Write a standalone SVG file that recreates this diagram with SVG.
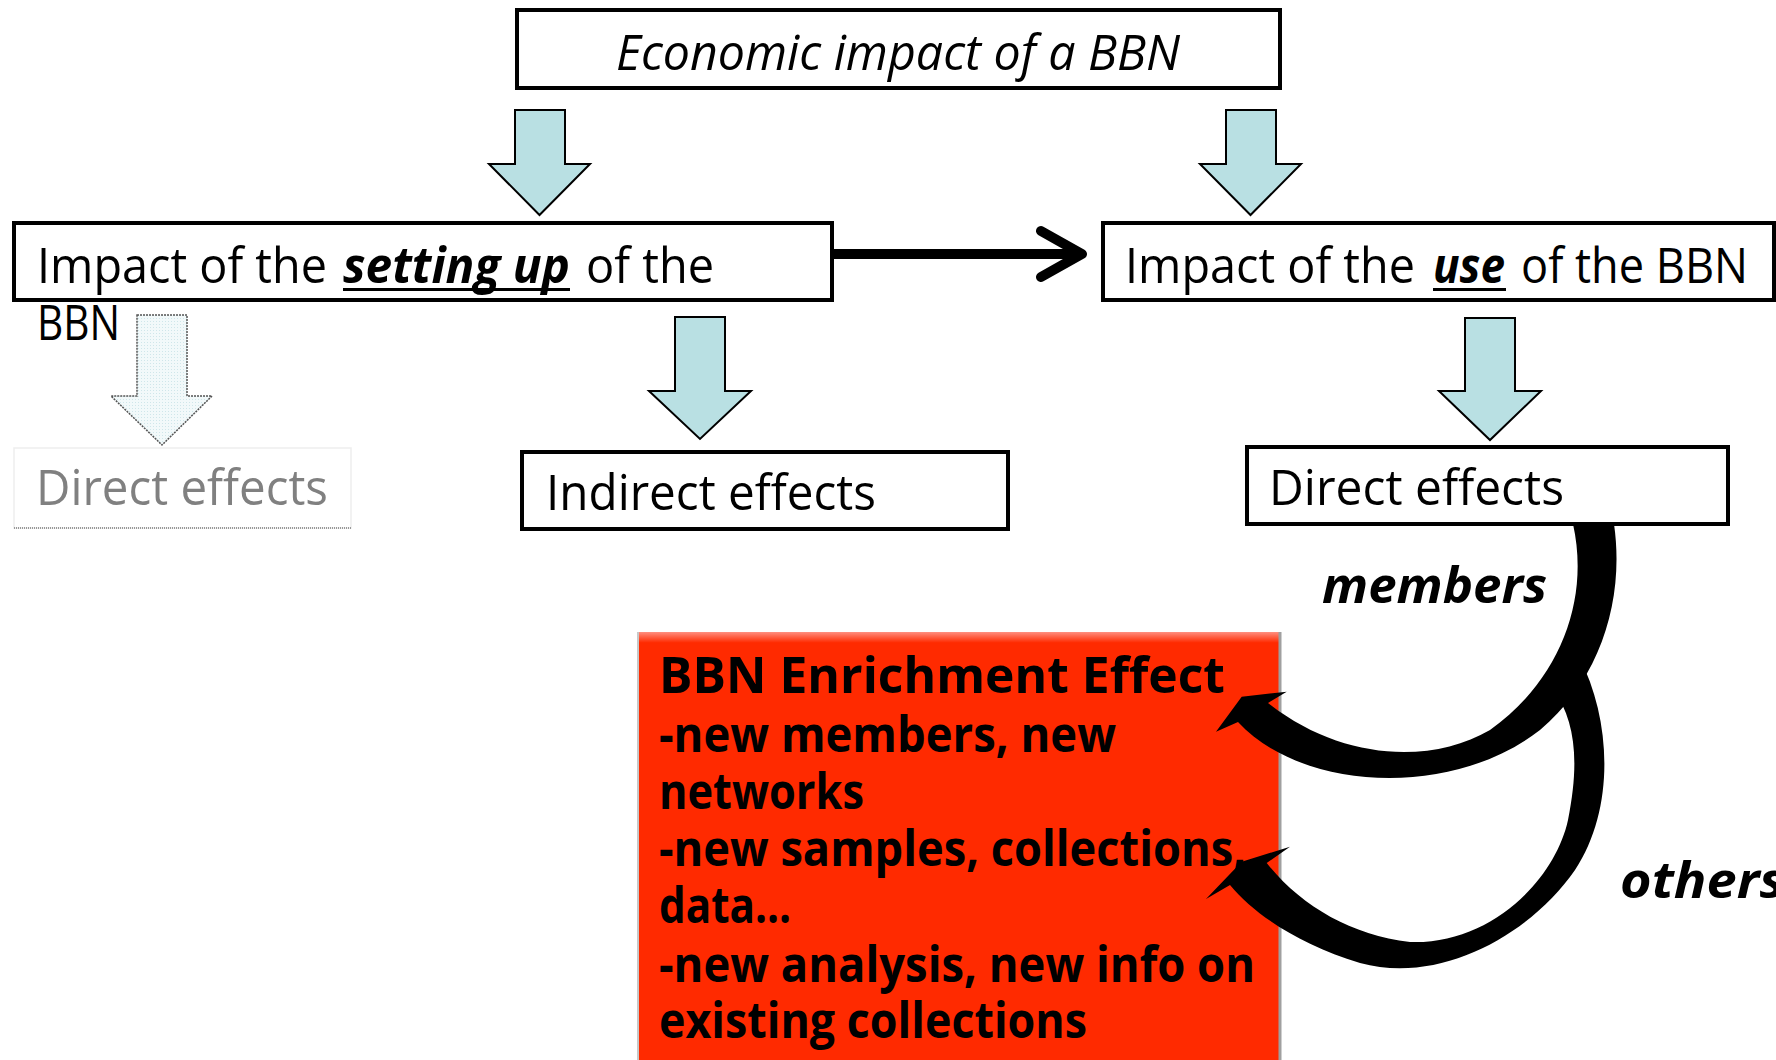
<svg xmlns="http://www.w3.org/2000/svg" width="1776" height="1060" viewBox="0 0 1776 1060">
<defs>
<style>
.box{fill:#fff;stroke:#000;stroke-width:4}
.t{font-family:"Open Sans","Noto Sans","DejaVu Sans",sans-serif;font-size:50px;fill:#000}
.it{font-style:italic}
.bi{font-style:italic;font-weight:bold}
.b{font-weight:bold}
.blk{fill:#000;stroke:none}
.dn{fill:#b9e0e3;stroke:#000;stroke-width:2;stroke-linejoin:miter}
</style>
<linearGradient id="redg" x1="0" y1="0" x2="0" y2="1">
<stop offset="0" stop-color="#ff8f80"/>
<stop offset="0.025" stop-color="#ff2a00"/>
<stop offset="1" stop-color="#ff2a00"/>
</linearGradient>
<pattern id="dots" width="3" height="3" patternUnits="userSpaceOnUse">
<rect width="3" height="3" fill="#f2f9fa"/>
<rect width="1" height="1" fill="#cfe6ea"/>
</pattern>
</defs>
<rect width="1776" height="1060" fill="#fff"/>

<g id="top">
<rect class="box" x="517" y="10" width="763" height="78"/>
<text class="t it" x="616" y="70" textLength="564" lengthAdjust="spacingAndGlyphs">Economic impact of a BBN</text>
</g>

<g id="setup">
<rect class="box" x="14" y="223" width="818" height="77"/>
<text class="t" x="37" y="283" textLength="290" lengthAdjust="spacingAndGlyphs">Impact of the</text>
<text class="t bi" x="343" y="283" textLength="227" lengthAdjust="spacingAndGlyphs">setting up</text>
<rect x="343" y="288" width="227" height="3" fill="#000"/>
<text class="t" x="586" y="283" textLength="128" lengthAdjust="spacingAndGlyphs">of the</text>
<text class="t" x="37" y="340" textLength="83" lengthAdjust="spacingAndGlyphs">BBN</text>
</g>

<g id="use">
<rect class="box" x="1103" y="223" width="671" height="77"/>
<text class="t" x="1125" y="283" textLength="290" lengthAdjust="spacingAndGlyphs">Impact of the</text>
<text class="t bi" x="1433" y="283" textLength="72" lengthAdjust="spacingAndGlyphs">use</text>
<rect x="1433" y="288" width="73" height="3" fill="#000"/>
<text class="t" x="1521" y="283" textLength="227" lengthAdjust="spacingAndGlyphs">of the BBN</text>
</g>

<g id="direct-left">
<rect x="14" y="448" width="337" height="80" fill="#fff" stroke="#eeeeee" stroke-width="1.5"/>
<line x1="14" y1="528" x2="351" y2="528" stroke="#999" stroke-width="2" stroke-dasharray="1 1"/>
<text class="t" x="36" y="505" fill="#808080" style="fill:#808080" textLength="292" lengthAdjust="spacingAndGlyphs">Direct effects</text>
</g>

<g id="indirect">
<rect class="box" x="522" y="452" width="486" height="77"/>
<text class="t" x="546" y="510" textLength="330" lengthAdjust="spacingAndGlyphs">Indirect effects</text>
</g>

<g id="direct-right">
<rect class="box" x="1247" y="447" width="481" height="77"/>
<text class="t" x="1269" y="505" textLength="295" lengthAdjust="spacingAndGlyphs">Direct effects</text>
</g>

<g id="enrichment">
<rect x="637" y="632" width="644" height="430" fill="url(#redg)"/>
<line x1="638" y1="632" x2="638" y2="1060" stroke="#c8c8c8" stroke-width="2"/>
<line x1="1280" y1="632" x2="1280" y2="1060" stroke="#a0a0a0" stroke-width="3"/>
<text class="t b" x="659" y="693" textLength="566" lengthAdjust="spacingAndGlyphs">BBN Enrichment Effect</text>
<text class="t b" x="659" y="752" textLength="457" lengthAdjust="spacingAndGlyphs">-new members, new</text>
<text class="t b" x="659" y="809" textLength="205" lengthAdjust="spacingAndGlyphs">networks</text>
<text class="t b" x="659" y="866" textLength="587" lengthAdjust="spacingAndGlyphs">-new samples, collections,</text>
<text class="t b" x="659" y="923" textLength="132" lengthAdjust="spacingAndGlyphs">data…</text>
<text class="t b" x="659" y="982" textLength="596" lengthAdjust="spacingAndGlyphs">-new analysis, new info on</text>
<text class="t b" x="659" y="1038" textLength="428" lengthAdjust="spacingAndGlyphs">existing collections</text>
</g>

<g id="labels">
<text class="t bi" x="1322" y="603" textLength="225" lengthAdjust="spacingAndGlyphs">members</text>
<text class="t bi" x="1620" y="898" textLength="165" lengthAdjust="spacingAndGlyphs">others</text>
</g>

<g id="connectors">
<path class="dn" d="M515 110 H565 V164 H590 L539.5 215 L489 164 H515 Z"/>
<path class="dn" d="M1226 110 H1276 V164 H1301 L1250.5 215 L1200 164 H1226 Z"/>
<path d="M137 315 H187 V396 H212 L162 445 L111 396 H137 Z" fill="url(#dots)" stroke="#555" stroke-width="1.5" stroke-dasharray="2 1"/>
<path class="dn" d="M675 317 H725 V391 H751 L700 439 L649 391 H675 Z"/>
<path class="dn" d="M1465 318 H1515 V391 H1541 L1490 440 L1439 391 H1465 Z"/>
<line x1="834" y1="254" x2="1078" y2="254" stroke="#000" stroke-width="10"/>
<path d="M1041 231 L1082 254 L1041 277" fill="none" stroke="#000" stroke-width="10" stroke-linecap="round" stroke-linejoin="round"/>
<path class="blk" d="M1573 524 C1590 600 1560 680 1490 730 C1430 765 1340 760 1268 703 L1286.7 691.7 L1241.7 696.7 L1216 731.7 L1238 722 C1300 790 1450 800 1540 730 C1600 680 1625 600 1614 524 Z"/>
<path class="blk" d="M1579 657 C1612 720 1615 810 1575 870 C1530 935 1440 985 1360 963 C1300 945 1255 915 1230 885 L1206 899 L1241.7 861.7 L1290 846.7 L1266.7 863 C1300 905 1350 935 1410 942 C1490 945 1555 880 1568 820 C1580 760 1575 720 1553 689 Z"/>
</g>
</svg>
